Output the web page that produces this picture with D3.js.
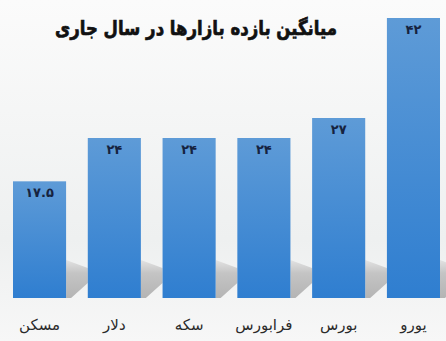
<!DOCTYPE html>
<html>
<head>
<meta charset="utf-8">
<script src="https://cdn.jsdelivr.net/npm/d3@7"></script>
<style>
  body { margin: 0; background: #f3f4f4; }
  svg { display: block; }
</style>
</head>
<body>
<div class="container"></div>
<script>
const w = 446;
const h = 341;

const categories = ['مسکن', 'دلار', 'سکه', 'فرابورس', 'بورس', 'یورو'];
const values = [17.5, 24, 24, 24, 27, 42];
const valueLabels = ['۱۷.۵', '۲۴', '۲۴', '۲۴', '۲۷', '۴۲'];
const title = 'میانگین بازده بازارها در سال جاری';

const margin = { top: 18, right: 6, bottom: 43, left: 13 };
const baseY = h - margin.bottom;

const svg = d3.select('.container')
    .append('svg')
    .attr('width', w)
    .attr('height', h);

const defs = svg.append('defs');

const bg = defs.append('linearGradient')
    .attr('id', 'bg')
    .attr('x1', 0).attr('y1', 0).attr('x2', 0).attr('y2', 1);
bg.append('stop').attr('offset', '0%').attr('stop-color', '#fbfbfb');
bg.append('stop').attr('offset', '70%').attr('stop-color', '#eef0f0');
bg.append('stop').attr('offset', '100%').attr('stop-color', '#f7f7f7');

const shade = defs.append('linearGradient')
    .attr('id', 'shade')
    .attr('x1', 0).attr('y1', 0).attr('x2', 0).attr('y2', 1);
shade.append('stop').attr('offset', '0%').attr('stop-color', '#e2e2e2');
shade.append('stop').attr('offset', '35%').attr('stop-color', '#c4c4c4');
shade.append('stop').attr('offset', '100%').attr('stop-color', '#b4b4b4');

const barGrad = defs.append('linearGradient')
    .attr('id', 'bar')
    .attr('x1', 0).attr('y1', 0).attr('x2', 0).attr('y2', 1);
barGrad.append('stop').attr('offset', '0%').attr('stop-color', '#5e9bd7');
barGrad.append('stop').attr('offset', '100%').attr('stop-color', '#2f7ed0');

svg.append('rect')
    .attr('width', w)
    .attr('height', h)
    .attr('fill', 'url(#bg)');

const x = d3.scaleBand()
    .domain(categories)
    .range([margin.left, w - margin.right])
    .paddingInner(0.29)
    .paddingOuter(0);

const y = d3.scaleLinear()
    .domain([0, 42])
    .range([baseY, margin.top]);

const gap = x.step() - x.bandwidth();

// shadows cast to the right of each bar
svg.selectAll('.shadow')
    .data(categories)
    .join('path')
    .attr('class', 'shadow')
    .attr('fill', 'url(#shade)')
    .attr('d', d => {
        const x1 = x(d) + x.bandwidth();
        return `M${x1},${baseY - 38} L${x1 + gap},${baseY - 30} L${x1 + gap},${baseY - 15} L${x1 + 5},${baseY} L${x1},${baseY} Z`;
    });

svg.selectAll('.bar')
    .data(values)
    .join('rect')
    .attr('class', 'bar')
    .attr('x', (d, i) => x(categories[i]))
    .attr('y', d => y(d))
    .attr('width', x.bandwidth())
    .attr('height', d => baseY - y(d))
    .attr('fill', 'url(#bar)');

svg.selectAll('.val')
    .data(values)
    .join('text')
    .attr('class', 'val')
    .attr('x', (d, i) => x(categories[i]) + x.bandwidth() / 2)
    .attr('y', d => y(d) + 16)
    .attr('text-anchor', 'middle')
    .style('font-family', '"DejaVu Sans", sans-serif')
    .style('font-weight', 'bold')
    .style('font-size', '13px')
    .attr('fill', '#16233f')
    .text((d, i) => valueLabels[i]);

svg.selectAll('.cat')
    .data(categories)
    .join('text')
    .attr('class', 'cat')
    .attr('x', d => x(d) + x.bandwidth() / 2)
    .attr('y', 330)
    .attr('text-anchor', 'middle')
    .attr('direction', 'rtl')
    .style('font-family', '"DejaVu Sans", sans-serif')
    .style('font-size', '15px')
    .attr('fill', '#2a2a2a')
    .text(d => d);

svg.append('text')
    .attr('x', 196)
    .attr('y', 35)
    .attr('text-anchor', 'middle')
    .attr('direction', 'rtl')
    .attr('textLength', 282)
    .attr('lengthAdjust', 'spacingAndGlyphs')
    .style('font-family', '"DejaVu Sans", sans-serif')
    .style('font-weight', 'bold')
    .style('font-size', '20px')
    .attr('fill', '#111')
    .attr('stroke', '#111')
    .attr('stroke-width', 0.7)
    .text(title);
</script>
</body>
</html>
